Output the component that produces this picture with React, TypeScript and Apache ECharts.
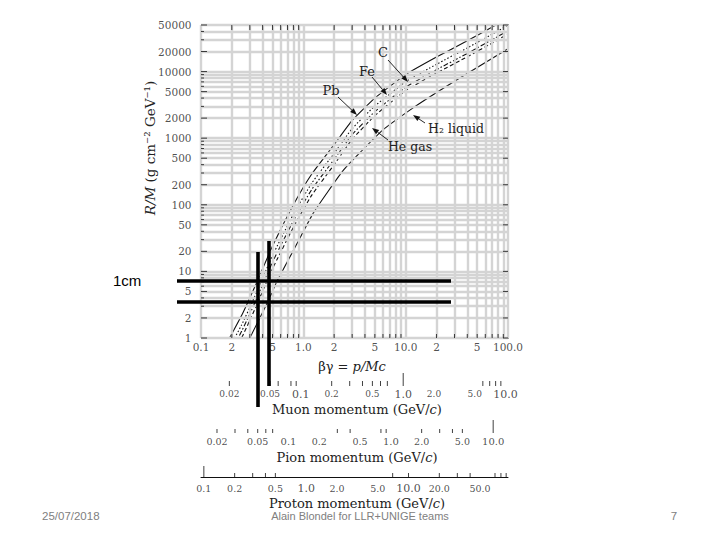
import React, { useEffect, useRef } from "react";
import * as echarts from "echarts";

// ---- curve data (βγ, R/M in g cm^-2 GeV^-1) ----
const betaGamma = [0.19, 0.25, 0.3, 0.35, 0.5, 0.8, 1.2, 2, 3, 5, 10, 20, 40, 76, 100];
const rmPb = [1, 2.2, 4.0, 6.8, 24, 100, 285, 800, 1850, 4000, 9000, 16500, 29000, 50000, 64000];
const rmFe = [0.72, 1.58, 2.88, 4.9, 17.3, 72, 208, 592, 1390, 3040, 7020, 12870, 22620, 39000, 49900];
const rmC = [0.575, 1.27, 2.3, 3.9, 13.8, 57.5, 167, 480, 1130, 2500, 5810, 10660, 18730, 32300, 41300];
const rmHe = [0.46, 1.01, 1.84, 3.13, 11.0, 46, 137, 400, 962, 2180, 5180, 9490, 16680, 28750, 36800];
const betaGammaH2 = [0.3, 0.45, 0.55, 0.9, 1.25, 2.5, 6, 12, 32, 100];
const rmH2 = [1, 3.5, 7, 29, 75, 340, 1330, 2900, 7600, 22000];

// ---- axis labels / ticks ----
const yLabelValues = [1, 2, 5, 10, 20, 50, 100, 200, 500, 1000, 2000, 5000, 10000, 20000, 50000];
const yLabelTexts = ["1", "2", "5", "10", "20", "50", "100", "200", "500", "1000", "2000", "5000", "10000", "20000", "50000"];
const xLabelValues = [0.1, 0.2, 0.5, 1, 2, 5, 10, 20, 50, 100];
const xLabelTexts = ["0.1", "2", "5", "1.0", "2", "5", "10.0", "2", "5", "100.0"];

const muonMass = 0.1057;
const pionMass = 0.1396;
const protonMass = 0.938;

const muonLabelValues = [0.02, 0.05, 0.1, 0.2, 0.5, 1, 2, 5, 10];
const muonLabelTexts = ["0.02", "0.05", "0.1", "0.2", "0.5", "1.0", "2.0", "5.0", "10.0"];
const muonLabelSizes = [9, 9, 11, 9, 9, 11, 9, 9, 11];
const muonTicks = [0.02, 0.05, 0.06, 0.08, 0.09, 0.2, 0.3, 0.4, 0.5, 0.6, 0.7, 6, 7, 8, 9];
const muonLongTicks = [1];

const pionLabelValues = [0.02, 0.05, 0.1, 0.2, 0.5, 1, 2, 5, 10];
const pionLabelTexts = ["0.02", "0.05", "0.1", "0.2", "0.5", "1.0", "2.0", "5.0", "10.0"];
const pionLabelSizes = [9.5, 9.5, 10, 9.5, 9.5, 10, 9.5, 9.5, 10];
const pionTicks = [0.02, 0.03, 0.04, 0.05, 0.06, 0.07, 0.3, 0.4, 0.8, 0.9, 2, 3, 4, 5];
const pionLongTicks = [10];

const protonLabelValues = [0.1, 0.2, 0.5, 1, 2, 5, 10, 20, 50];
const protonLabelTexts = ["0.1", "0.2", "0.5", "1.0", "2.0", "5.0", "10.0", "20.0", "50.0"];
const protonLabelSizes = [9.5, 9.5, 9.5, 11, 9.5, 9.5, 11, 9.5, 9.5];
const protonTicks = [0.2, 0.3, 0.4, 0.5, 7, 10, 20, 30, 40, 70, 80, 90];
const protonLongTicks = [0.1];

const SERIF = "'DejaVu Serif', 'Liberation Serif', serif";
const SANS = "'Liberation Sans', Arial, sans-serif";

function decadeGrid(lo: number, hi: number): number[] {
  const out: number[] = [];
  for (let e = Math.floor(Math.log10(lo)); e <= Math.ceil(Math.log10(hi)); e++) {
    for (let k = 1; k <= 9; k++) {
      const v = +(k * Math.pow(10, e)).toPrecision(6);
      if (v >= lo * 0.999 && v <= hi * 1.001) out.push(v);
    }
  }
  return out;
}

function tickSeries(xi: number, yi: number, pts: number[][], size: number[], offset: number[]) {
  return {
    type: "scatter",
    xAxisIndex: xi,
    yAxisIndex: yi,
    data: pts,
    symbol: "rect",
    symbolSize: size,
    symbolOffset: offset,
    itemStyle: { color: "#111" },
    silent: true,
    clip: false,
    z: 5,
  };
}

function labelSeries(
  xi: number,
  yi: number,
  pts: number[][],
  texts: string[],
  position: string,
  distance: number,
  sizes: number[]
) {
  return {
    type: "scatter",
    xAxisIndex: xi,
    yAxisIndex: yi,
    data: pts.map((p, i) => ({
      value: p,
      label: { formatter: texts[i], fontSize: sizes[i] },
    })),
    symbolSize: 1,
    itemStyle: { color: "rgba(0,0,0,0)" },
    label: {
      show: true,
      position,
      distance,
      color: "#222",
      fontFamily: SERIF,
    },
    silent: true,
    clip: false,
    z: 6,
  };
}

function arrow(x1: number, y1: number, x2: number, y2: number) {
  const a = Math.atan2(y2 - y1, x2 - x1);
  const L = 7;
  const W = 2.6;
  const bx = x2 - L * Math.cos(a);
  const by = y2 - L * Math.sin(a);
  const px = -Math.sin(a) * W;
  const py = Math.cos(a) * W;
  return [
    { type: "line", shape: { x1, y1, x2: bx, y2: by }, style: { stroke: "#111", lineWidth: 0.9 }, z: 50 },
    {
      type: "polygon",
      shape: { points: [[x2, y2], [bx + px, by + py], [bx - px, by - py]] },
      style: { fill: "#111" },
      z: 50,
    },
  ];
}

function curve(name: string, xs: number[], ys: number[], dash: any) {
  return {
    name,
    type: "line",
    xAxisIndex: 0,
    yAxisIndex: 0,
    data: xs.map((x, i) => [x, ys[i]]),
    showSymbol: false,
    symbol: "none",
    smooth: 0.15,
    lineStyle: { color: "#111", width: 1.1, type: dash },
    clip: true,
    silent: true,
    z: 3,
  };
}

export default function App() {
  const ref = useRef<HTMLDivElement>(null);
  useEffect(() => {
    if (!ref.current) return;
    const chart = echarts.init(ref.current, undefined, { renderer: "svg" });

    const xGrid = decadeGrid(0.1, 100);
    const yGrid = decadeGrid(1, 50000);
    const isDecade = (v: number) => Math.abs(Math.log10(v) - Math.round(Math.log10(v))) < 1e-6;

    const L = 201;
    const W = 307;

    const thick = (x1: number, y1: number, x2: number, y2: number) => ({
      type: "line",
      shape: { x1, y1, x2, y2 },
      style: { stroke: "#000", lineWidth: 3.6 },
      z: 60,
    });
    const txt = (x: number, y: number, text: string, opt: any = {}) => ({
      type: "text",
      x,
      y,
      z: 55,
      style: {
        text,
        fill: "#222",
        font: `13px ${SERIF}`,
        align: "center",
        verticalAlign: "middle",
        ...opt,
      },
    });

    const option: any = {
      animation: false,
      backgroundColor: "#ffffff",
      grid: [
        { left: L, top: 25, width: W, height: 313 },
        { left: L, top: 366, width: W, height: 20 },
        { left: L, top: 413, width: W, height: 20 },
        { left: L, top: 457, width: W, height: 20 },
      ],
      xAxis: [
        { type: "log", logBase: 10, gridIndex: 0, min: 0.1, max: 100, show: false },
        {
          type: "log",
          logBase: 10,
          gridIndex: 0,
          min: 0.1,
          max: 100,
          position: "top",
          axisLine: { show: true, lineStyle: { color: "#111", width: 1 } },
          axisTick: { show: false },
          axisLabel: { show: false },
          splitLine: { show: false },
        },
        { type: "log", logBase: 10, gridIndex: 1, min: 0.1 * muonMass, max: 100 * muonMass, show: false },
        { type: "log", logBase: 10, gridIndex: 2, min: 0.1 * pionMass, max: 100 * pionMass, show: false },
        {
          type: "log",
          logBase: 10,
          gridIndex: 3,
          min: 0.1 * protonMass,
          max: 100 * protonMass,
          axisLine: { show: true, lineStyle: { color: "#111", width: 1 } },
          axisTick: { show: false },
          axisLabel: { show: false },
          splitLine: { show: false },
        },
      ],
      yAxis: [
        { type: "log", logBase: 10, gridIndex: 0, min: 1, max: 50000, show: false },
        {
          type: "log",
          logBase: 10,
          gridIndex: 0,
          min: 1,
          max: 50000,
          position: "right",
          axisLine: { show: true, lineStyle: { color: "#111", width: 1 } },
          axisTick: { show: false },
          axisLabel: { show: false },
          splitLine: { show: false },
        },
        { type: "value", gridIndex: 1, min: 0, max: 1, show: false },
        { type: "value", gridIndex: 2, min: 0, max: 1, show: false },
        { type: "value", gridIndex: 3, min: 0, max: 1, show: false },
      ],
      series: [
        {
          type: "line",
          xAxisIndex: 0,
          yAxisIndex: 0,
          data: [[0.1, 1]],
          symbol: "none",
          lineStyle: { width: 0 },
          silent: true,
          z: 1,
          markLine: {
            silent: true,
            symbol: ["none", "none"],
            label: { show: false },
            lineStyle: { color: "#d4d4d4", width: 2.4, type: "solid" },
            data: [...xGrid.map((v) => ({ xAxis: v })), ...yGrid.map((v) => ({ yAxis: v }))],
          },
        },
        curve("Pb", betaGamma, rmPb, "solid"),
        curve("Fe", betaGamma, rmFe, [1.5, 2]),
        curve("C", betaGamma, rmC, [5, 2, 1.5, 2]),
        curve("He gas", betaGamma, rmHe, [4, 2.5]),
        curve("H2 liquid", betaGammaH2, rmH2, "solid"),
        // main plot ticks
        tickSeries(0, 0, yLabelValues.map((v) => [0.1, v]), [6, 1], [3, 0]),
        tickSeries(0, 0, yGrid.filter((v) => !yLabelValues.includes(v)).map((v) => [0.1, v]), [3, 1], [1.5, 0]),
        tickSeries(0, 0, yLabelValues.map((v) => [100, v]), [5, 1], [-2.5, 0]),
        tickSeries(0, 0, xGrid.filter((v) => !isDecade(v)).map((v) => [v, 50000]), [1, 5], [0, 2.5]),
        tickSeries(0, 0, xGrid.filter((v) => !isDecade(v)).map((v) => [v, 1]), [1, 4], [0, -2]),
        labelSeries(0, 0, yLabelValues.map((v) => [0.1, v]), yLabelTexts, "left", 9, yLabelValues.map(() => 10.5)),
        labelSeries(0, 0, xLabelValues.map((v) => [v, 1]), xLabelTexts, "bottom", 2.5, xLabelValues.map(() => 10.5)),
        // muon axis
        tickSeries(2, 2, muonTicks.map((v) => [v, 0]), [1, 5], [0, -2.5]),
        tickSeries(2, 2, muonLongTicks.map((v) => [v, 0]), [1, 13], [0, -6.5]),
        labelSeries(2, 2, muonLabelValues.map((v) => [v, 0]), muonLabelTexts, "bottom", 2.5, muonLabelSizes),
        // pion axis
        tickSeries(3, 3, pionTicks.map((v) => [v, 0]), [1, 4], [0, -2]),
        tickSeries(3, 3, pionLongTicks.map((v) => [v, 0]), [1, 13], [0, -6.5]),
        labelSeries(3, 3, pionLabelValues.map((v) => [v, 0]), pionLabelTexts, "bottom", 3, pionLabelSizes),
        // proton axis
        tickSeries(4, 4, protonTicks.map((v) => [v, 0]), [1, 4], [0, -2]),
        tickSeries(4, 4, protonLongTicks.map((v) => [v, 0]), [1, 11], [0, -5.5]),
        labelSeries(4, 4, protonLabelValues.map((v) => [v, 0]), protonLabelTexts, "bottom", 5.5, protonLabelSizes),
      ],
      graphic: [
        // axis titles
        {
          type: "text",
          x: 150,
          y: 148,
          rotation: Math.PI / 2,
          z: 55,
          style: {
            text: "{i|R/M} (g cm⁻² GeV⁻¹)",
            fill: "#222",
            font: `13.5px ${SERIF}`,
            align: "center",
            verticalAlign: "middle",
            rich: { i: { fontStyle: "italic", fontFamily: SERIF, fontSize: 13.5, fill: "#222" } },
          },
        },
        txt(352, 366, "βγ = {i|p/Mc}", {
          rich: { i: { fontStyle: "italic", fontFamily: SERIF, fontSize: 13, fill: "#222" } },
        }),
        txt(357, 409, "Muon momentum (GeV/{i|c})", {
          rich: { i: { fontStyle: "italic", fontFamily: SERIF, fontSize: 13, fill: "#222" } },
        }),
        txt(357, 457, "Pion momentum (GeV/{i|c})", {
          rich: { i: { fontStyle: "italic", fontFamily: SERIF, fontSize: 13, fill: "#222" } },
        }),
        txt(357, 503, "Proton momentum (GeV/{i|c})", {
          rich: { i: { fontStyle: "italic", fontFamily: SERIF, fontSize: 13, fill: "#222" } },
        }),
        // curve annotations
        txt(383, 52, "C"),
        txt(367, 71, "Fe"),
        txt(331, 90, "Pb"),
        txt(456, 128, "H₂ liquid", { font: `12.5px ${SERIF}` }),
        txt(410, 146, "He gas", { font: `12.5px ${SERIF}` }),
        ...arrow(388, 60, 408, 82),
        ...arrow(372, 77, 387, 95),
        ...arrow(338, 97, 357, 115),
        ...arrow(388, 140, 372, 128),
        ...arrow(425, 123, 413, 115),
        // hand-drawn thick lines
        thick(177, 281, 451, 281),
        thick(177, 302, 451, 302),
        thick(258, 252, 258, 407),
        thick(269, 241, 269, 386),
        txt(113, 280, "1cm", { font: `15px ${SANS}`, align: "left", fill: "#000" }),
        // footer
        txt(42, 516, "25/07/2018", { font: `11.5px ${SANS}`, align: "left", fill: "#808080" }),
        txt(360, 516, "Alain Blondel for LLR+UNIGE teams", { font: `11px ${SANS}`, fill: "#808080" }),
        txt(674, 516, "7", { font: `11.5px ${SANS}`, fill: "#808080" }),
      ],
    };

    chart.setOption(option);
    return () => chart.dispose();
  }, []);

  return (
    <div
      ref={ref}
      style={{ position: "absolute", left: 0, top: 0, width: 720, height: 540, background: "#fff" }}
    />
  );
}
